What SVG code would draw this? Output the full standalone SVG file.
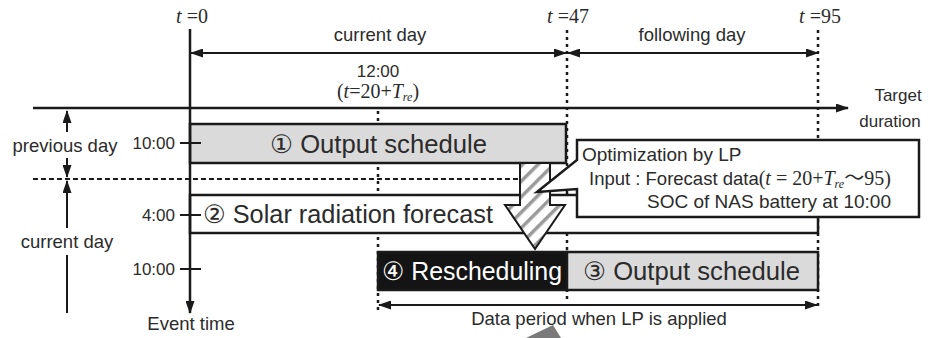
<svg xmlns="http://www.w3.org/2000/svg" width="936" height="338" viewBox="0 0 936 338">
  <defs>
    <marker id="ah" markerUnits="userSpaceOnUse" markerWidth="13" markerHeight="9" viewBox="0 0 13 9" refX="12" refY="4.5" orient="auto-start-reverse">
      <path d="M0,0 L13,4.5 L0,9 z" fill="#1a1a1a"/>
    </marker>
    <pattern id="hatch" patternUnits="userSpaceOnUse" width="11" height="11" patternTransform="rotate(45)">
      <rect width="11" height="11" fill="#ffffff"/>
      <rect x="0" y="0" width="3.5" height="11" fill="#9a9a9a"/>
    </pattern>
    <style>
      .ln { stroke: #1a1a1a; stroke-width: 2; fill: none; }
      .axis { stroke: #1a1a1a; stroke-width: 2.5; fill: none; }
      .dot { stroke: #1a1a1a; stroke-width: 2.5; stroke-dasharray: 3 4; fill: none; }
      .dash { stroke: #1a1a1a; stroke-width: 2; stroke-dasharray: 5 3; fill: none; }
      .box { stroke: #1a1a1a; stroke-width: 2.5; }
      .sans { font-family: "Liberation Sans", "DejaVu Sans", Arial, sans-serif; fill: #2b2b2b; }
      .serif { font-family: "Liberation Serif", "DejaVu Serif", "Noto Sans CJK JP", serif; fill: #2b2b2b; }
      .lab { font-size: 18.5px; }
      .tick { font-size: 17px; }
      .note { font-size: 19px; }
      .big { font-size: 25.5px; }
    </style>
  </defs>

  <!-- guides behind the schedule rows -->
  <g id="guides">
    <line class="dot" x1="567" y1="30" x2="567" y2="300"/>
    <line class="dot" x1="818" y1="30" x2="818" y2="310"/>
    <line class="dot" x1="378" y1="111" x2="378" y2="310"/>
    <line class="dash" x1="33" y1="179" x2="566" y2="179"/>
  </g>

  <!-- time markers along the top -->
  <g id="time-labels">
    <text class="serif" x="192" y="23" font-size="20" text-anchor="middle"><tspan font-style="italic">t</tspan> =0</text>
    <text class="serif" x="568" y="23" font-size="20" text-anchor="middle"><tspan font-style="italic">t</tspan> =47</text>
    <text class="serif" x="820" y="23" font-size="20" text-anchor="middle"><tspan font-style="italic">t</tspan> =95</text>
    <text class="sans lab" x="380" y="41" text-anchor="middle">current day</text>
    <text class="sans lab" x="692" y="41" text-anchor="middle">following day</text>
    <text class="sans tick" x="378" y="77" text-anchor="middle">12:00</text>
    <text class="serif" x="378" y="98" font-size="20" text-anchor="middle">(<tspan font-style="italic">t</tspan>=20+<tspan font-style="italic">T</tspan><tspan font-style="italic" font-size="12" dy="3">re</tspan><tspan dy="-3">)</tspan></text>
  </g>

  <!-- left-side day ranges -->
  <g id="day-ranges">
    <text class="sans lab" x="65" y="152" text-anchor="middle">previous day</text>
    <text class="sans lab" x="67" y="248" text-anchor="middle">current day</text>
  </g>

  <!-- rows of the schedule -->
  <g id="row-output-1">
    <rect class="box" x="190" y="124" width="376" height="39" fill="#dadada"/>
    <text class="sans big" x="270" y="153" textLength="217" lengthAdjust="spacingAndGlyphs">① Output schedule</text>
  </g>
  <g id="row-forecast">
    <rect class="box" x="190" y="195" width="628" height="38" fill="#ffffff"/>
    <text class="sans big" x="203" y="223" textLength="290" lengthAdjust="spacingAndGlyphs">② Solar radiation forecast</text>
  </g>
  <g id="row-reschedule">
    <rect class="box" x="378" y="252" width="189" height="38" fill="#141414"/>
    <text class="sans big" x="382" y="280" textLength="180" lengthAdjust="spacingAndGlyphs" style="fill:#ffffff">④ Rescheduling</text>
  </g>
  <g id="row-output-3">
    <rect class="box" x="567" y="252" width="251" height="38" fill="#dadada"/>
    <text class="sans big" x="583" y="280" textLength="217" lengthAdjust="spacingAndGlyphs">③ Output schedule</text>
  </g>

  <!-- axes and dimension arrows -->
  <g id="connectors">
    <line class="axis" x1="33" y1="108" x2="848" y2="108" marker-end="url(#ah)"/>
    <line class="axis" x1="190" y1="29" x2="190" y2="313" marker-end="url(#ah)"/>
    <line class="ln" x1="191" y1="53" x2="566" y2="53" marker-start="url(#ah)" marker-end="url(#ah)"/>
    <line class="ln" x1="568" y1="53" x2="818" y2="53" marker-start="url(#ah)" marker-end="url(#ah)"/>
    <line class="ln" x1="379" y1="305" x2="817" y2="305" marker-start="url(#ah)" marker-end="url(#ah)"/>
    <line class="ln" x1="67" y1="132" x2="67" y2="111" marker-end="url(#ah)"/>
    <line class="ln" x1="67" y1="158" x2="67" y2="177" marker-end="url(#ah)"/>
    <line class="ln" x1="67" y1="228" x2="67" y2="181" marker-end="url(#ah)"/>
    <line class="ln" x1="67" y1="255" x2="67" y2="313"/>
    <line class="ln" x1="180" y1="143" x2="201" y2="143"/>
    <line class="ln" x1="180" y1="215" x2="201" y2="215"/>
    <line class="ln" x1="180" y1="269" x2="201" y2="269"/>
  </g>

  <!-- tick labels and axis titles -->
  <g id="axis-labels">
    <text class="sans tick" x="175" y="149" text-anchor="end">10:00</text>
    <text class="sans tick" x="175" y="221" text-anchor="end">4:00</text>
    <text class="sans tick" x="175" y="275" text-anchor="end">10:00</text>
    <text class="sans lab" x="191" y="330" text-anchor="middle">Event time</text>
    <text class="sans" x="898" y="101" font-size="17" text-anchor="middle">Target</text>
    <text class="sans" x="890" y="127" font-size="17" text-anchor="middle">duration</text>
    <text class="sans lab" x="599" y="325" text-anchor="middle">Data period when LP is applied</text>
  </g>

  <!-- hatched block arrow from the schedule down to rescheduling -->
  <g id="lp-arrow">
    <path d="M520,163 H550 V205 H565 L535,249 L505,205 H520 Z" fill="url(#hatch)" stroke="#1a1a1a" stroke-width="2"/>
  </g>

  <!-- LP callout -->
  <g id="lp-callout">
    <path d="M577,140 H919 V217 H577 V189 L537,192 L577,160 Z" fill="#ffffff" stroke="#1a1a1a" stroke-width="2.5" stroke-linejoin="miter"/>
    <text class="sans note" x="582" y="161">Optimization by LP</text>
    <text class="sans" x="589" y="185" font-size="18.5">Input : Forecast data<tspan class="serif" font-size="20">(<tspan font-style="italic">t</tspan> = 20+<tspan font-style="italic">T</tspan><tspan font-style="italic" font-size="12" dy="3">re</tspan><tspan dy="-3">〜95)</tspan></tspan></text>
    <text class="sans note" x="647" y="208">SOC of NAS battery at 10:00</text>
  </g>

  <!-- grey wedge at the lower edge -->
  <polygon points="526,338 553,325 561,338" fill="#7a7a7a"/>
</svg>
